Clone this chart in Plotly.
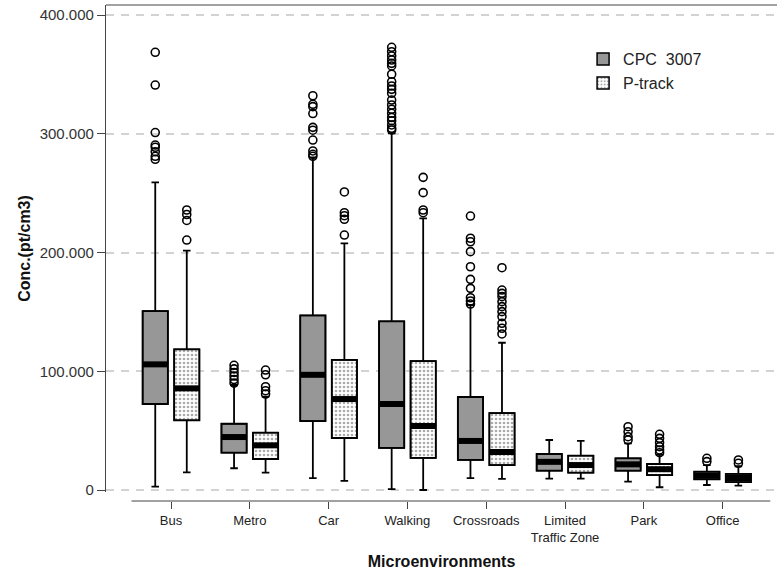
import plotly.graph_objects as go

# ---------------- data ----------------
categories = ["Bus", "Metro", "Car", "Walking", "Crossroads",
              "Limited<br>Traffic Zone", "Park", "Office"]

cpc_q1 = [72400, 31400, 58000, 35400, 25300, 16300, 16300, 9000]
cpc_med = [105800, 44600, 97000, 72400, 41300, 23700, 21600, 12000]
cpc_q3 = [150700, 55800, 147000, 142000, 78300, 30300, 26700, 15400]
cpc_lo = [2800, 18300, 10000, 800, 10000, 9500, 7000, 4200]
cpc_hi = [259000, 88400, 280000, 300400, 155800, 42100, 39300, 21000]
cpc_out = [
    [368600, 341000, 301000, 290500, 288600, 284900, 281000, 278500],
    [105000, 102000, 99000, 96000, 93000, 90000],
    [332000, 324800, 322800, 317000, 305400, 303000, 294700, 285500, 282700, 281000],
    [372800, 369100, 365500, 362100, 359300, 357100, 350100, 343800, 340200, 337400,
     334100, 328400, 324200, 320600, 317200, 313800, 311000, 307400, 304600, 303200],
    [230700, 212000, 209000, 200700, 188000, 177400, 169800, 161900, 159200, 156600],
    [],
    [53300, 49100, 44900, 42100],
    [26700, 23900],
]

p_q1 = [58700, 26100, 43800, 27000, 21000, 14600, 12600, 6700]
p_med = [85600, 37600, 76600, 53900, 32000, 21000, 17500, 10100]
p_q3 = [118500, 48300, 109500, 108600, 64800, 28900, 21900, 13500]
p_lo = [14900, 14600, 7600, 0, 9300, 9500, 2300, 3600]
p_hi = [201500, 78600, 207700, 228800, 124000, 41300, 29500, 20000]
p_out = [
    [235800, 232000, 227000, 210500],
    [101000, 97000, 87000, 83600, 80800],
    [251000, 233500, 231000, 228000, 214700],
    [263300, 250400, 235800, 233500],
    [187200, 168400, 165600, 162800, 158600, 154400, 150200, 146000, 140400, 136200, 131400],
    [],
    [46900, 43500, 39900, 36500, 33700, 31400],
    [25300, 22500],
]

y_tickvals = [0, 100000, 200000, 300000, 400000]
y_ticktext = ["0", "100.000", "200.000", "300.000", "400.000"]

series_names = ["CPC\u00a0 3007", "P-track"]

# ---------------- styling ----------------
FONT = "Arial, Liberation Sans, sans-serif"
GRAY = "#979797"
OFFSET = 0.2
BOXW = 0.32

idx = list(range(len(categories)))
fig = go.Figure()

series = [
    dict(name=series_names[0], off=-OFFSET, q1=cpc_q1, med=cpc_med, q3=cpc_q3,
         lo=cpc_lo, hi=cpc_hi, out=cpc_out,
         marker=dict(color=GRAY, line=dict(color="black", width=1.5))),
    dict(name=series_names[1], off=OFFSET, q1=p_q1, med=p_med, q3=p_q3,
         lo=p_lo, hi=p_hi, out=p_out,
         marker=dict(color="white",
                     pattern=dict(shape=".", fgcolor="#555555", bgcolor="white",
                                  size=4, solidity=0.35),
                     line=dict(color="black", width=1.5))),
]

for s in series:
    xs = [i + s["off"] for i in idx]
    # filled body (gives pattern + legend symbol)
    fig.add_trace(go.Bar(
        x=xs, base=s["q1"], y=[b - a for a, b in zip(s["q1"], s["q3"])],
        width=BOXW, marker=s["marker"], name=s["name"], showlegend=True,
        legendgroup=s["name"], hoverinfo="skip"))
    # box outline, whiskers, caps
    fig.add_trace(go.Box(
        x=xs, q1=s["q1"], median=s["med"], q3=s["q3"],
        lowerfence=s["lo"], upperfence=s["hi"],
        width=BOXW, whiskerwidth=0.3, boxpoints=False,
        fillcolor="rgba(0,0,0,0)", line=dict(color="black", width=1.8),
        showlegend=False, legendgroup=s["name"], hoverinfo="skip"))
    # thick median band
    mx, my = [], []
    for x, m in zip(xs, s["med"]):
        mx += [x - BOXW / 2, x + BOXW / 2, None]
        my += [m, m, None]
    fig.add_trace(go.Scatter(
        x=mx, y=my, mode="lines", line=dict(color="black", width=6),
        showlegend=False, hoverinfo="skip"))
    # outliers
    ox, oy = [], []
    for x, vals in zip(xs, s["out"]):
        ox += [x] * len(vals)
        oy += vals
    fig.add_trace(go.Scatter(
        x=ox, y=oy, mode="markers",
        marker=dict(symbol="circle-open", size=8, color="black",
                    line=dict(width=1.6, color="black")),
        showlegend=False, hoverinfo="skip"))

fig.update_layout(
    width=779, height=571,
    margin=dict(l=106, r=2, t=5, b=70),
    paper_bgcolor="white", plot_bgcolor="white",
    font=dict(family=FONT, color="#222222"),
    barmode="overlay", boxmode="overlay",
    showlegend=True,
    legend=dict(x=0.711, y=0.925, xanchor="left", yanchor="top",
                font=dict(size=16, color="#222222"),
                traceorder="grouped", tracegroupgap=0,
                bgcolor="rgba(0,0,0,0)"),
    xaxis=dict(
        range=[-0.825, 7.69], tickvals=idx, ticktext=categories,
        anchor="free", position=0, showline=False, showgrid=False,
        zeroline=False, ticks="outside", ticklen=7, tickcolor="#444444",
        tickwidth=1.2, tickfont=dict(size=13, color="#222222"),
        title=dict(text="<b>Microenvironments</b>", font=dict(size=16, color="#111111"),
                   standoff=12)),
    yaxis=dict(
        domain=[0.01815, 1], range=[-1684, 408421],
        tickvals=y_tickvals, ticktext=y_ticktext,
        showline=True, linecolor="#444444", linewidth=1.2,
        ticks="outside", ticklen=8, tickcolor="#444444", tickwidth=1.2,
        showgrid=True, gridcolor="#d3d3d3", gridwidth=1.5, griddash="8px,7px",
        zeroline=False, tickfont=dict(size=15, color="#333333"),
        title=dict(text="<b>Conc.(pt/cm3)</b>", font=dict(size=16, color="#111111"),
                   standoff=5)),
    shapes=[
        dict(type="line", xref="paper", yref="paper", x0=0, x1=1, y0=1, y1=1,
             line=dict(color="#444444", width=1.2)),
        dict(type="line", xref="paper", yref="paper", x0=0.038, x1=0.99, y0=0, y1=0,
             line=dict(color="#444444", width=1.2)),
    ],
)

fig.write_html("out.html")
